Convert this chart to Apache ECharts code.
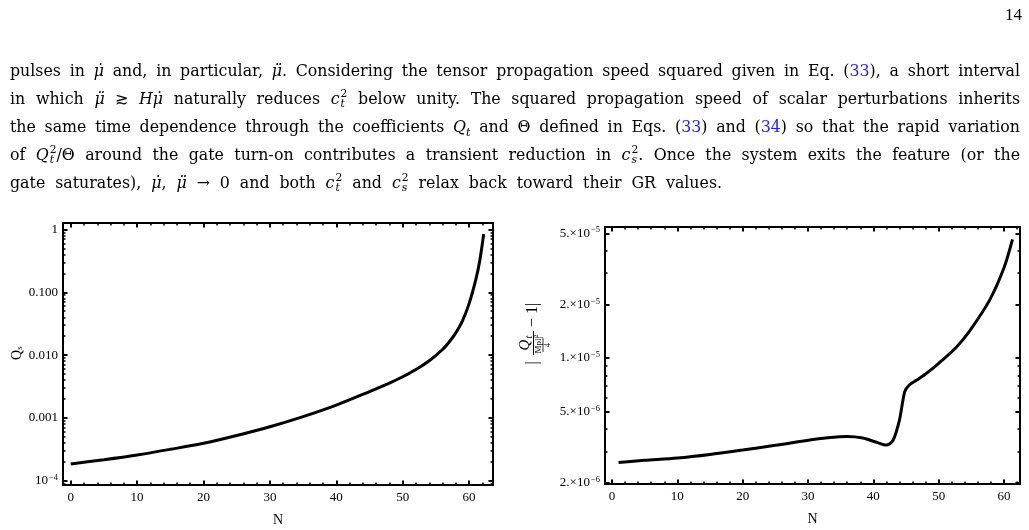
<!DOCTYPE html>
<html><head><meta charset="utf-8">
<script src="https://cdn.jsdelivr.net/npm/echarts@6/dist/echarts.min.js"></script>
<style>
html,body{margin:0;padding:0;background:#fff;}
#wrap{position:relative;width:1029px;height:530px;overflow:hidden;}
#chart{position:absolute;left:0;top:0;width:1029px;height:530px;}
#text{position:absolute;left:10px;top:57px;width:1010px;font-family:"DejaVu Serif",serif;font-size:16px;line-height:28px;color:#000;pointer-events:none;}
#text .ln{text-align:justify;text-align-last:justify;height:28px;white-space:nowrap;}
#text .ln.last{width:712px;}
#pg{position:absolute;right:7px;top:5px;font-family:"Liberation Serif",serif;font-size:17px;}
.ref{color:#1f1fff;}
.ss{display:inline-block;vertical-align:-0.32em;font-size:0.68em;line-height:0.95;margin-left:1px;}
.ss span{display:block;}
i{font-style:italic;}
</style></head>
<body><div id="wrap">
<div id="chart"></div>
<div id="pg">14</div>
<div id="text">
<div class="ln"><span class="in">pulses in <i>μ̇</i> and, in particular, <i>μ̈</i>. Considering the tensor propagation speed squared given in Eq. (<span class="ref">33</span>), a short interval</span></div>
<div class="ln"><span class="in">in which <i>μ̈</i> ≳ <i>Hμ̇</i> naturally reduces <i>c</i><span class="ss"><span>2</span><span><i>t</i></span></span> below unity. The squared propagation speed of scalar perturbations inherits</span></div>
<div class="ln"><span class="in">the same time dependence through the coefficients <i>Q<sub style="font-size:0.7em">t</sub></i> and Θ defined in Eqs. (<span class="ref">33</span>) and (<span class="ref">34</span>) so that the rapid variation</span></div>
<div class="ln"><span class="in">of <i>Q</i><span class="ss"><span>2</span><span><i>t</i></span></span>/Θ around the gate turn-on contributes a transient reduction in <i>c</i><span class="ss"><span>2</span><span><i>s</i></span></span>. Once the system exits the feature (or the</span></div>
<div class="ln last"><span class="in">gate saturates), <i>μ̇</i>, <i>μ̈</i> → 0 and both <i>c</i><span class="ss"><span>2</span><span><i>t</i></span></span> and <i>c</i><span class="ss"><span>2</span><span><i>s</i></span></span> relax back toward their GR values.</span></div>
</div>
</div>
<script>
// fit paragraph font so the longest line just fits, then justify
(function () {
  const box = document.getElementById('text');
  const base = 16;
  box.style.fontSize = base + 'px';
  let maxW = 0;
  document.querySelectorAll('#text .in').forEach(s => { maxW = Math.max(maxW, s.getBoundingClientRect().width); });
  let f = base * 998 / maxW;
  if (f > 17.6) f = 17.6;
  box.style.fontSize = f.toFixed(2) + 'px';
  document.querySelectorAll('#text .ln').forEach(l => { l.style.whiteSpace = 'normal'; });
})();

// ---- data ----
const leftN  = [0, 5, 10, 15, 20, 25, 30, 35, 40, 45, 48, 50, 52, 54, 56, 57, 58, 59, 60, 61, 61.6, 62.2];
const leftQs = [1.85e-4, 2.16e-4, 2.57e-4, 3.16e-4, 3.94e-4, 5.25e-4, 7.24e-4, 1.05e-3, 1.6e-3, 2.63e-3, 3.59e-3, 4.52e-3, 5.89e-3, 8.13e-3, 1.23e-2, 1.62e-2, 2.26e-2, 3.51e-2, 6.61e-2, 0.158, 0.316, 0.85];
const rightN  = [1, 5, 10, 15, 20, 25, 29.8, 33, 36, 38.4, 40.5, 42, 43, 44, 44.8, 45.5, 46.6, 48, 50, 52.7, 54.7, 57.8, 60, 61.3];
const rightQt = [2.60e-6, 2.67e-6, 2.75e-6, 2.88e-6, 3.05e-6, 3.24e-6, 3.45e-6, 3.57e-6, 3.63e-6, 3.56e-6, 3.37e-6, 3.25e-6, 3.45e-6, 4.49e-6, 6.46e-6, 7.06e-6, 7.5e-6, 8.13e-6, 9.33e-6, 1.15e-5, 1.41e-5, 2.11e-5, 3.2e-5, 4.62e-5];
const xTicks = [0, 10, 20, 30, 40, 50, 60];
const xTickLabels = ['0', '10', '20', '30', '40', '50', '60'];
const leftYTicks = [1e-4, 1e-3, 1e-2, 1e-1, 1];
const leftYLabels = ['10^−4', '0.001', '0.010', '0.100', '1'];
const rightYTicks = [2e-6, 5e-6, 1e-5, 2e-5, 5e-5];
const rightYLabels = ['2.×10^−6', '5.×10^−6', '1.×10^−5', '2.×10^−5', '5.×10^−5'];

const FONT = '"Liberation Serif", serif';
const L = {xmin: -1.16, xmax: 63.6, ymin: -4.068, ymax: 0.1035};
const R = {xmin: -1.07, xmax: 62.45, ymin: -5.706, ymax: -4.266};

function xMinor(a, b) { const r = []; for (let v = -2; v <= 64; v += 2) if (v % 10 !== 0 && v > a && v < b) r.push(v); return r; }
function logMinor(a, b, majors) {
  const r = [];
  for (let e = -7; e <= 1; e++) for (let k = 1; k <= 9; k++) {
    const v = k * Math.pow(10, e); const lv = Math.log10(v);
    if (lv > a && lv < b && !majors.some(m => Math.abs(Math.log10(m) - lv) < 1e-6)) r.push(lv);
  }
  return r;
}
function toRich(s) {
  if (s.indexOf('^') < 0) return '{b|' + s + '}';
  const p = s.split('^');
  return '{b|' + p[0] + '}{s|' + p[1] + '}';
}
function makeFormatter(ticks, labels) {
  return function (v) {
    for (let i = 0; i < ticks.length; i++) if (Math.abs(Math.log10(ticks[i]) - v) < 1e-4) return toRich(labels[i]);
    return '';
  };
}
const rich = {
  b: {fontFamily: FONT, fontSize: 13, color: '#000', lineHeight: 15},
  s: {fontFamily: FONT, fontSize: 8.5, color: '#000', verticalAlign: 'top', lineHeight: 9, padding: [0, 0, 0, 1]}
};
const majorTick = (vals) => ({show: true, inside: true, length: 4.5, lineStyle: {color: '#000', width: 2}, customValues: vals});
const minorTick = (vals) => ({show: true, inside: true, length: 2.5, lineStyle: {color: '#000', width: 1.5}, customValues: vals});
const noLine = {show: false, onZero: false};

function axesFor(g, ext, yTicks, yLabels) {
  const xs = [], ys = [];
  const xMaj = xTicks.slice();
  const xMin = xMinor(ext.xmin, ext.xmax);
  const yMaj = yTicks.map(v => Math.log10(v));
  const yMin = logMinor(ext.ymin, ext.ymax, yTicks);
  const base = {type: 'value', gridIndex: g, splitLine: {show: false}, axisLine: noLine};
  xs.push(Object.assign({}, base, {position: 'bottom', min: ext.xmin, max: ext.xmax, axisTick: majorTick(xMaj),
    axisLabel: {show: true, customValues: xMaj, margin: 6, fontFamily: FONT, fontSize: 13, color: '#000',
      formatter: v => { const i = xTicks.indexOf(Math.round(v)); return i >= 0 ? xTickLabels[i] : ''; }},
    name: 'N', nameLocation: 'middle', nameGap: 28, nameTextStyle: {fontFamily: FONT, fontSize: 14, color: '#000'}}));
  xs.push(Object.assign({}, base, {position: 'bottom', min: ext.xmin, max: ext.xmax, axisTick: minorTick(xMin), axisLabel: {show: false}}));
  xs.push(Object.assign({}, base, {position: 'top', min: ext.xmin, max: ext.xmax, axisTick: majorTick(xMaj), axisLabel: {show: false}}));
  xs.push(Object.assign({}, base, {position: 'top', min: ext.xmin, max: ext.xmax, axisTick: minorTick(xMin), axisLabel: {show: false}}));
  ys.push(Object.assign({}, base, {position: 'left', min: ext.ymin, max: ext.ymax, axisTick: majorTick(yMaj),
    axisLabel: {show: true, customValues: yMaj, margin: 5, formatter: makeFormatter(yTicks, yLabels), rich: rich}}));
  ys.push(Object.assign({}, base, {position: 'left', min: ext.ymin, max: ext.ymax, axisTick: minorTick(yMin), axisLabel: {show: false}}));
  ys.push(Object.assign({}, base, {position: 'right', min: ext.ymin, max: ext.ymax, axisTick: majorTick(yMaj), axisLabel: {show: false}}));
  ys.push(Object.assign({}, base, {position: 'right', min: ext.ymin, max: ext.ymax, axisTick: minorTick(yMin), axisLabel: {show: false}}));
  return {xs, ys};
}
const aL = axesFor(0, L, leftYTicks, leftYLabels);
const aR = axesFor(1, R, rightYTicks, rightYLabels);

const txt = (x, y, text, size, extra) => ({type: 'text', x: x, y: y, style: Object.assign({text: text, fontFamily: FONT, fontSize: size, fill: '#000', align: 'center', verticalAlign: 'middle'}, extra || {})});
const ln = (x1, y1, x2, y2, w) => ({type: 'line', shape: {x1, y1, x2, y2}, style: {stroke: '#000', lineWidth: w || 1}});

const option = {
  animation: false,
  backgroundColor: '#fff',
  grid: [
    {left: 63, top: 223, width: 430, height: 262, show: true, borderColor: '#000', borderWidth: 2, backgroundColor: 'transparent'},
    {left: 605, top: 227, width: 415, height: 257, show: true, borderColor: '#000', borderWidth: 2, backgroundColor: 'transparent'}
  ],
  xAxis: aL.xs.concat(aR.xs),
  yAxis: aL.ys.concat(aR.ys),
  series: [
    {type: 'line', xAxisIndex: 0, yAxisIndex: 0, showSymbol: false, smooth: 0.3, clip: true,
      lineStyle: {color: '#000', width: 3}, data: leftN.map((n, i) => [n, Math.log10(leftQs[i])])},
    {type: 'line', xAxisIndex: 4, yAxisIndex: 4, showSymbol: false, smooth: 0.3, clip: true,
      lineStyle: {color: '#000', width: 3}, data: rightN.map((n, i) => [n, Math.log10(rightQt[i])])}
  ],
  graphic: [
    {type: 'group', x: 17, y: 355, rotation: Math.PI / 2, children: [
      txt(0, 0, 'Q', 14),
      txt(7, 3, 's', 9)
    ]},
    {type: 'group', x: 533, y: 335, rotation: Math.PI / 2, children: [
      txt(-28, 0, '|', 16),
      txt(-10, -8, 'Q', 15, {fontStyle: 'italic'}),
      txt(-2, -4, 't', 10, {fontStyle: 'italic'}),
      ln(-20, 0.5, 4, 0.5, 1),
      txt(-10, 5.5, 'Mpl|', 9),
      txt(-1, 3, '2', 6.5),
      ln(-17, 10, -3, 10, 0.8),
      txt(-10, 14.5, '4', 8.5),
      txt(8, 0, '− 1|', 16, {align: 'left'})
    ]}
  ]
};
const chart = echarts.init(document.getElementById('chart'), null, {renderer: 'canvas'});
chart.setOption(option);
if (document.fonts && document.fonts.load) {
  Promise.all([document.fonts.load('13px "Liberation Serif"'), document.fonts.load('italic 15px "Liberation Serif"')]).then(function () {
    chart.clear();
    chart.setOption(option);
  });
}
</script>
</body></html>
